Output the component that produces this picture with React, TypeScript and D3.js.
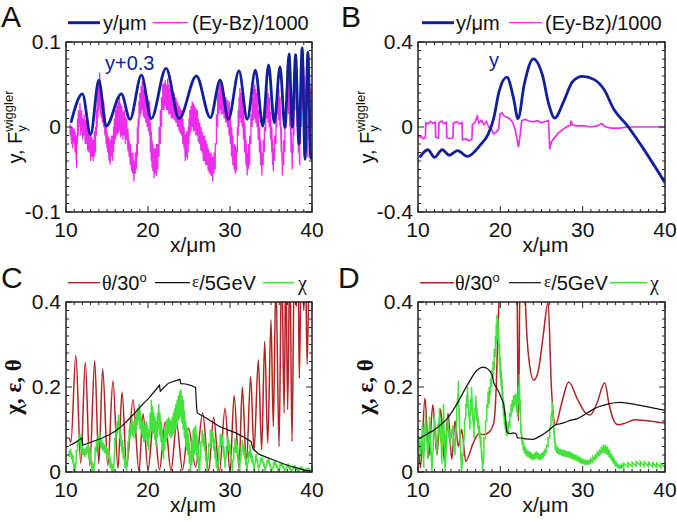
import React from 'react';
import * as d3 from 'd3';

type P = [number, number];
type B3 = [number, number, number];

// ---------- tick values ----------
const X_TICKS = [10, 20, 30, 40];
const A_Y_TICKS = [-0.1, 0, 0.1];
const B_Y_TICKS = [-0.4, 0, 0.4];
const CD_Y_TICKS = [0, 0.2, 0.4];

// ---------- Panel A ----------
const A_blue: P[] = [
  [10.6, 0.005], [12.0, 0.039], [13.0, -0.009], [14.0, 0.055], [14.9, 0.001], [16.75, 0.039],
  [17.8, 0.009], [19.2, 0.061], [20.4, 0.01], [22.2, 0.069], [23.8, 0.01], [25.9, 0.06],
  [27.6, 0.011], [28.8, 0.055], [29.8, 0.009], [31.1, 0.066], [32.1, 0.009], [33.1, 0.067],
  [34.0, 0.001], [34.7, 0.073], [35.4, 0.005], [36.1, 0.071], [36.7, -0.001], [37.2, 0.086],
  [37.6, 0.0], [38.0, 0.085], [38.4, -0.02], [38.8, 0.093], [39.15, -0.038], [39.5, 0.088],
  [39.85, -0.037], [40.0, -0.03],
];
// magenta noisy trace: [x, low, high]
const A_mag: B3[] = [
  [10.5, -0.01, 0.003], [10.7, -0.02, 0.0], [10.8, -0.025, 0.0], [11.0, -0.02, -0.002], [11.1, -0.03, -0.005], [11.3, -0.048, -0.01],
  [11.4, -0.02, 0.01], [11.5, -0.01, 0.02], [11.7, 0.0, 0.028], [11.8, -0.01, 0.015], [11.9, -0.005, 0.02], [12.05, -0.015, 0.01], [12.2, -0.01, 0.015],
  [12.35, -0.02, 0.008], [12.5, -0.02, 0.005], [12.65, -0.028, 0.0], [12.8, -0.03, -0.005], [12.9, -0.025, -0.005], [13.0, -0.04, -0.01], [13.15, -0.035, -0.012], [13.3, -0.04, -0.015],
  [13.45, -0.035, -0.005], [13.6, -0.03, 0.0], [13.7, -0.01, 0.02], [13.8, 0.0, 0.04], [13.9, 0.01, 0.05], [14.0, 0.02, 0.055], [14.1, 0.025, 0.064],
  [14.2, 0.015, 0.05], [14.3, 0.01, 0.045], [14.45, 0.005, 0.035], [14.6, 0.0, 0.03], [14.75, -0.01, 0.015], [14.9, -0.02, 0.0], [15.0, -0.025, -0.005], [15.1, -0.03, -0.01],
  [15.25, -0.04, -0.012], [15.4, -0.044, -0.015], [15.55, -0.035, -0.01], [15.7, -0.04, -0.01], [15.8, -0.03, 0.0], [15.9, -0.02, 0.01], [16.05, -0.015, 0.02], [16.2, -0.01, 0.025],
  [16.35, -0.008, 0.03], [16.5, -0.005, 0.036], [16.65, -0.012, 0.028], [16.8, -0.01, 0.025], [16.95, -0.015, 0.018], [17.1, -0.01, 0.02], [17.25, -0.02, 0.012], [17.4, -0.015, 0.01],
  [17.55, -0.028, -0.002], [17.7, -0.035, -0.015], [17.85, -0.045, -0.02], [18.0, -0.052, -0.03], [18.15, -0.055, -0.03], [18.3, -0.064, -0.04], [18.45, -0.055, -0.03], [18.6, -0.05, -0.02],
  [18.7, -0.035, 0.0], [18.8, -0.02, 0.01], [18.9, 0.0, 0.03], [19.0, 0.01, 0.04], [19.15, 0.015, 0.048], [19.3, 0.02, 0.054], [19.45, 0.012, 0.045], [19.6, 0.01, 0.045],
  [19.75, 0.005, 0.04], [19.9, 0.0, 0.037], [20.05, -0.005, 0.032], [20.2, -0.01, 0.03], [20.3, -0.03, 0.005], [20.4, -0.04, -0.005], [20.5, -0.048, -0.015], [20.6, -0.052, -0.02],
  [20.75, -0.06, -0.025], [20.9, -0.055, -0.025], [21.05, -0.058, -0.02], [21.2, -0.05, -0.02], [21.35, -0.035, 0.0], [21.5, -0.02, 0.02], [21.65, 0.0, 0.035], [21.8, 0.02, 0.05],
  [21.95, 0.02, 0.052], [22.1, 0.025, 0.055], [22.25, 0.02, 0.05], [22.4, 0.02, 0.057], [22.55, 0.015, 0.05], [22.7, 0.015, 0.045], [22.85, 0.01, 0.048], [23.0, 0.01, 0.04],
  [23.2, 0.008, 0.04], [23.4, 0.005, 0.035], [23.6, 0.0, 0.03], [23.8, -0.005, 0.025], [23.95, -0.008, 0.022], [24.1, -0.01, 0.02], [24.25, -0.02, 0.01], [24.4, -0.025, 0.0],
  [24.55, -0.04, -0.008], [24.7, -0.035, -0.005], [24.8, -0.038, -0.005], [24.9, -0.03, 0.0], [25.0, -0.02, 0.01], [25.1, -0.01, 0.02], [25.25, -0.005, 0.025], [25.4, 0.0, 0.03],
  [25.55, -0.005, 0.028], [25.7, -0.005, 0.025], [25.85, -0.01, 0.022], [26.0, -0.01, 0.02], [26.15, -0.018, 0.01], [26.3, -0.02, 0.005], [26.45, -0.028, 0.0], [26.6, -0.03, -0.005],
  [26.75, -0.04, -0.01], [26.9, -0.04, -0.01], [27.05, -0.045, -0.015], [27.2, -0.045, -0.02], [27.35, -0.052, -0.025], [27.5, -0.055, -0.03], [27.7, -0.058, -0.03], [27.9, -0.064, -0.035],
  [28.05, -0.055, -0.03], [28.2, -0.05, -0.02], [28.35, -0.02, 0.015], [28.5, 0.0, 0.04], [28.65, 0.015, 0.05], [28.8, 0.02, 0.057], [28.95, 0.015, 0.05], [29.1, 0.015, 0.045],
  [29.3, 0.01, 0.04], [29.5, 0.005, 0.035], [29.7, 0.0, 0.032], [29.9, -0.01, 0.03], [30.05, -0.02, 0.015], [30.2, -0.035, 0.0], [30.35, -0.045, -0.01], [30.5, -0.05, -0.02],
  [30.65, -0.055, -0.022], [30.8, -0.052, -0.025], [30.9, -0.03, 0.0], [31.0, -0.01, 0.02], [31.1, 0.0, 0.035], [31.2, 0.01, 0.046], [31.35, 0.005, 0.04], [31.5, 0.0, 0.035],
  [31.65, -0.015, 0.02], [31.8, -0.03, 0.005], [31.95, -0.045, -0.015], [32.1, -0.057, -0.03], [32.25, -0.05, -0.02], [32.4, -0.045, -0.01], [32.55, -0.02, 0.015], [32.7, 0.0, 0.035],
  [32.85, 0.008, 0.045], [33.0, 0.01, 0.05], [33.15, 0.005, 0.045], [33.3, 0.0, 0.04], [33.45, -0.015, 0.02], [33.6, -0.03, 0.0], [33.75, -0.045, -0.015], [33.9, -0.057, -0.03],
  [34.05, -0.045, -0.015], [34.2, -0.03, 0.0], [34.35, -0.005, 0.03], [34.5, 0.01, 0.047], [34.65, 0.005, 0.04], [34.8, 0.0, 0.035], [34.95, -0.015, 0.018], [35.1, -0.03, 0.0],
  [35.2, -0.045, -0.015], [35.3, -0.052, -0.025], [35.45, -0.04, -0.01], [35.6, -0.02, 0.01], [35.7, 0.0, 0.035], [35.8, 0.015, 0.052], [35.95, 0.008, 0.045], [36.1, 0.0, 0.035],
  [36.25, -0.03, 0.0], [36.4, -0.057, -0.03], [36.55, -0.045, -0.015], [36.7, -0.03, 0.0], [36.85, 0.0, 0.04], [37.0, 0.03, 0.073], [37.15, 0.015, 0.055], [37.3, 0.0, 0.04],
  [37.45, -0.03, 0.0], [37.6, -0.05, -0.02], [37.7, -0.03, 0.005], [37.8, -0.01, 0.03], [37.9, 0.02, 0.06], [38.0, 0.04, 0.081], [38.1, 0.02, 0.06], [38.2, 0.0, 0.04],
  [38.35, -0.03, 0.005], [38.5, -0.045, -0.015], [38.6, -0.02, 0.015], [38.7, 0.0, 0.04], [38.8, 0.02, 0.065], [38.9, 0.04, 0.081], [39.0, 0.03, 0.07], [39.1, 0.02, 0.06],
  [39.2, 0.0, 0.045], [39.3, -0.01, 0.03], [39.4, -0.025, 0.005], [39.5, -0.036, -0.01], [39.6, -0.015, 0.015], [39.7, 0.0, 0.03], [39.8, 0.01, 0.045], [39.9, 0.02, 0.05],
  [40.0, 0.0, 0.04],
];

// ---------- Panel B ----------
const B_blue: P[] = [
  [10.2, -0.143], [11.2, -0.107], [12.0, -0.143], [12.95, -0.107], [13.8, -0.133], [14.8, -0.111],
  [16.0, -0.138], [17.6, -0.083], [18.5, -0.036], [19.2, 0.042], [19.85, 0.168], [20.8, 0.235],
  [21.6, 0.136], [22.15, 0.039], [22.9, 0.2], [24.0, 0.321], [25.1, 0.246], [25.9, 0.105],
  [26.6, 0.042], [27.7, 0.121], [28.75, 0.212], [29.96, 0.238], [31.4, 0.223], [32.6, 0.176],
  [33.8, 0.082], [35.4, 0.008], [37.05, -0.083], [40.0, -0.262],
];
const B_mag: P[] = [
  [10.1, -0.05], [10.4, -0.045], [10.6, -0.055], [10.9, -0.05], [10.95, 0.02], [11.2, 0.014],
  [11.5, 0.026], [11.8, 0.017], [12.1, 0.022], [12.15, -0.048], [12.5, -0.052], [12.55, 0.02],
  [12.9, 0.028], [13.2, 0.016], [13.45, 0.022], [13.5, -0.05], [13.9, -0.055], [14.25, -0.05],
  [14.3, 0.018], [14.7, 0.025], [15.0, 0.015], [15.35, 0.02], [15.4, -0.06], [15.8, -0.055],
  [16.2, -0.065], [16.55, -0.058], [16.6, 0.01], [16.9, 0.02], [17.2, 0.05], [17.4, 0.018],
  [17.7, 0.032], [18.0, 0.012], [18.3, 0.026], [18.6, 0.0], [18.9, -0.01], [19.2, -0.032],
  [19.5, -0.024], [19.8, -0.01], [19.95, 0.06], [20.2, 0.066], [20.5, 0.05], [20.8, 0.046],
  [21.1, 0.04], [21.5, 0.022], [21.8, -0.01], [22.0, -0.05], [22.2, -0.095], [22.4, -0.04],
  [22.6, 0.03], [23.0, 0.036], [23.5, 0.028], [24.0, 0.024], [24.5, 0.03], [25.0, 0.02],
  [25.5, 0.026], [25.85, 0.03], [26.0, -0.105], [26.2, -0.07], [26.6, -0.05], [27.0, -0.03],
  [27.5, -0.015], [28.0, 0.0], [28.5, 0.008], [28.6, 0.03], [28.75, 0.01], [29.2, 0.005],
  [30.0, 0.006], [31.0, 0.0], [31.8, 0.005], [32.3, 0.016], [32.8, 0.0], [33.5, -0.005],
  [34.5, -0.005], [35.5, 0.0], [36.5, 0.0], [38.0, 0.0], [40.0, 0.0],
];

// ---------- Panel C ----------
const C_theta: P[] = [
  [10.4, 0.08], [10.6, 0.07], [11.2, 0.275], [11.8, 0.02], [12.35, 0.258], [12.9, 0.015],
  [13.5, 0.262], [14.0, 0.02], [14.47, 0.243], [15.1, 0.015], [15.73, 0.215], [16.34, 0.009],
  [16.83, 0.188], [17.4, 0.012], [18.17, 0.17], [18.9, 0.002], [19.4, 0.137], [20.0, 0.005],
  [20.7, 0.123], [21.4, 0.005], [22.1, 0.118], [22.8, 0.003], [23.5, 0.113], [24.2, 0.005],
  [24.95, 0.103], [25.8, 0.012], [26.67, 0.139], [27.4, 0.003], [28.0, 0.129], [28.7, 0.0],
  [29.4, 0.15], [30.0, 0.0], [30.5, 0.18], [31.1, 0.01], [31.5, 0.2], [32.0, 0.02],
  [32.52, 0.225], [32.93, 0.05], [33.45, 0.264], [33.86, 0.053], [34.23, 0.307], [34.6, 0.068],
  [35.0, 0.358], [35.28, 0.107], [35.6, 0.45], [35.98, 0.06], [36.3, 0.5], [36.6, 0.139],
  [36.8, 0.5], [37.03, 0.147], [37.3, 0.5], [37.56, 0.072], [37.85, 0.5], [38.1, 0.39],
  [38.3, 0.5], [38.45, 0.22], [38.7, 0.5], [39.0, 0.38], [39.2, 0.5], [39.4, 0.253],
  [39.7, 0.5], [40.0, 0.45],
];
const C_eps: P[] = [
  [10.4, 0.062], [11.2, 0.07], [11.95, 0.08], [12.05, 0.063], [13.0, 0.07], [14.4, 0.08],
  [15.2, 0.087], [16.0, 0.096], [16.8, 0.108], [17.6, 0.123], [18.3, 0.137], [18.9, 0.15],
  [19.5, 0.162], [20.1, 0.174], [20.8, 0.19], [21.4, 0.204], [21.5, 0.19], [22.0, 0.2],
  [22.5, 0.209], [23.2, 0.214], [23.9, 0.218], [24.0, 0.208], [24.6, 0.207], [25.2, 0.204],
  [25.8, 0.199], [25.9, 0.16], [26.0, 0.139], [27.1, 0.127], [28.7, 0.107], [30.7, 0.092],
  [31.7, 0.082], [32.56, 0.072], [32.8, 0.055], [33.5, 0.042], [34.4, 0.035], [35.5, 0.027],
  [36.4, 0.02], [37.5, 0.013], [38.45, 0.008], [39.2, 0.004], [39.9, 0.002],
];
const C_chi: B3[] = [
  [10.4, 0.035, 0.05], [10.55, 0.04, 0.055], [10.7, 0.03, 0.045], [10.85, 0.02, 0.04], [11.0, 0.0, 0.02], [11.1, 0.0, 0.005],
  [11.25, 0.03, 0.05], [11.4, 0.05, 0.075], [11.55, 0.06, 0.085], [11.7, 0.07, 0.09], [11.85, 0.05, 0.07], [12.0, 0.04, 0.06], [12.15, 0.04, 0.055], [12.3, 0.035, 0.055],
  [12.5, 0.04, 0.06], [12.7, 0.045, 0.07], [12.85, 0.03, 0.055], [13.0, 0.02, 0.045], [13.2, 0.0, 0.025], [13.4, 0.0, 0.01], [13.55, 0.03, 0.055], [13.7, 0.05, 0.075],
  [13.9, 0.06, 0.085], [14.1, 0.07, 0.095], [14.3, 0.055, 0.08], [14.5, 0.05, 0.07], [14.7, 0.045, 0.065], [14.9, 0.04, 0.06], [15.05, 0.035, 0.055], [15.2, 0.03, 0.05],
  [15.4, 0.01, 0.035], [15.6, 0.0, 0.02], [15.8, 0.0, 0.005], [15.95, 0.05, 0.08], [16.1, 0.08, 0.11], [16.25, 0.09, 0.12], [16.4, 0.1, 0.135], [16.55, 0.08, 0.11],
  [16.7, 0.06, 0.09], [16.85, 0.045, 0.075], [17.0, 0.03, 0.06], [17.2, 0.01, 0.035], [17.4, 0.0, 0.01], [17.55, 0.04, 0.07], [17.7, 0.07, 0.1], [17.85, 0.08, 0.115],
  [18.0, 0.09, 0.13], [18.15, 0.085, 0.12], [18.3, 0.08, 0.11], [18.45, 0.09, 0.125], [18.6, 0.1, 0.14], [18.75, 0.11, 0.15], [18.9, 0.12, 0.16], [19.05, 0.1, 0.145],
  [19.2, 0.09, 0.13], [19.35, 0.08, 0.12], [19.5, 0.07, 0.11], [19.65, 0.075, 0.115], [19.8, 0.08, 0.12], [19.95, 0.06, 0.11], [20.1, 0.05, 0.1], [20.25, 0.08, 0.14],
  [20.4, 0.1, 0.17], [20.55, 0.095, 0.155], [20.7, 0.09, 0.14], [20.85, 0.075, 0.13], [21.0, 0.06, 0.12], [21.15, 0.08, 0.14], [21.3, 0.1, 0.16], [21.45, 0.085, 0.14],
  [21.6, 0.07, 0.12], [21.75, 0.05, 0.1], [21.9, 0.03, 0.08], [22.05, 0.05, 0.1], [22.2, 0.07, 0.12], [22.35, 0.08, 0.125], [22.5, 0.09, 0.13], [22.65, 0.085, 0.125],
  [22.8, 0.08, 0.12], [22.95, 0.085, 0.13], [23.1, 0.09, 0.14], [23.25, 0.095, 0.15], [23.4, 0.1, 0.16], [23.55, 0.11, 0.17], [23.7, 0.12, 0.18], [23.85, 0.125, 0.19],
  [24.0, 0.13, 0.195], [24.15, 0.115, 0.18], [24.3, 0.1, 0.17], [24.45, 0.08, 0.145], [24.6, 0.06, 0.12], [24.75, 0.05, 0.105], [24.9, 0.04, 0.09], [25.05, 0.02, 0.07],
  [25.2, 0.0, 0.05], [25.35, 0.015, 0.075], [25.5, 0.03, 0.1], [25.65, 0.04, 0.105], [25.8, 0.05, 0.11], [25.95, 0.035, 0.09], [26.1, 0.02, 0.07], [26.2, 0.005, 0.04],
  [26.3, 0.0, 0.02], [26.45, 0.04, 0.07], [26.6, 0.07, 0.1], [26.75, 0.06, 0.09], [26.9, 0.05, 0.08], [27.05, 0.025, 0.05], [27.2, 0.0, 0.02], [27.4, 0.035, 0.065],
  [27.6, 0.06, 0.1], [27.75, 0.065, 0.098], [27.9, 0.07, 0.095], [28.05, 0.05, 0.08], [28.2, 0.03, 0.06], [28.35, 0.01, 0.035], [28.5, 0.0, 0.015], [28.65, 0.03, 0.06],
  [28.8, 0.06, 0.09], [28.95, 0.062, 0.088], [29.1, 0.06, 0.085], [29.25, 0.035, 0.06], [29.4, 0.01, 0.03], [29.55, 0.035, 0.06], [29.7, 0.06, 0.085], [29.85, 0.05, 0.075],
  [30.0, 0.04, 0.065], [30.15, 0.02, 0.04], [30.3, 0.0, 0.02], [30.45, 0.03, 0.055], [30.6, 0.05, 0.08], [30.75, 0.045, 0.072], [30.9, 0.04, 0.065], [31.05, 0.02, 0.04],
  [31.2, 0.0, 0.02], [31.35, 0.03, 0.05], [31.5, 0.05, 0.075], [31.65, 0.04, 0.065], [31.8, 0.03, 0.055], [31.95, 0.015, 0.035], [32.1, 0.0, 0.015], [32.25, 0.025, 0.045],
  [32.4, 0.04, 0.065], [32.55, 0.03, 0.05], [32.7, 0.02, 0.04], [32.95, 0.0, 0.01], [33.1, 0.025, 0.038], [33.2, 0.03, 0.042], [33.35, 0.02, 0.03], [33.5, 0.0, 0.008],
  [33.7, 0.02, 0.03], [33.9, 0.025, 0.035], [34.1, 0.015, 0.024], [34.3, 0.0, 0.006], [34.5, 0.017, 0.026], [34.7, 0.022, 0.032], [34.9, 0.012, 0.02], [35.1, 0.0, 0.005],
  [35.3, 0.014, 0.022], [35.5, 0.018, 0.027], [35.7, 0.01, 0.017], [35.9, 0.0, 0.005], [36.1, 0.011, 0.018], [36.3, 0.015, 0.023], [36.5, 0.008, 0.014], [36.7, 0.0, 0.005],
  [36.9, 0.009, 0.016], [37.1, 0.012, 0.02], [37.3, 0.006, 0.012], [37.5, 0.0, 0.004], [37.7, 0.007, 0.013], [37.9, 0.009, 0.016], [38.1, 0.005, 0.01], [38.3, 0.0, 0.004],
  [38.5, 0.005, 0.01], [38.7, 0.007, 0.013], [38.9, 0.003, 0.008], [39.1, 0.0, 0.004], [39.3, 0.003, 0.008], [39.5, 0.004, 0.01], [39.7, 0.002, 0.006], [39.9, 0.0, 0.004],
];

// ---------- Panel D ----------
const D_theta: P[] = [
  [10.15, 0.04], [10.3, 0.01], [10.85, 0.174], [11.3, 0.035], [11.8, 0.158], [12.3, 0.04],
  [12.75, 0.148], [13.2, 0.025], [13.65, 0.138], [14.1, 0.03], [14.5, 0.12], [14.9, 0.06],
  [15.3, 0.1], [15.8, 0.025], [16.7, 0.068], [17.4, 0.09], [18.0, 0.088], [18.7, 0.095],
  [19.2, 0.115], [19.5, 0.2], [19.7, 0.33], [19.85, 0.42], [20.0, 0.6], [21.9, 0.6],
  [22.05, 0.4], [22.2, 0.12], [22.35, 0.4], [22.5, 0.6], [22.9, 0.6], [23.05, 0.4],
  [23.5, 0.26], [24.05, 0.216], [24.6, 0.237], [25.2, 0.32], [25.8, 0.4], [26.2, 0.2],
  [26.7, 0.111], [27.4, 0.158], [28.3, 0.212], [29.4, 0.17], [30.3, 0.14], [30.9, 0.134],
  [31.7, 0.16], [32.68, 0.21], [33.2, 0.16], [33.8, 0.12], [34.3, 0.111], [35.2, 0.115],
  [36.3, 0.123], [38.0, 0.12], [40.0, 0.115],
];
const D_eps: P[] = [
  [10.15, 0.078], [11.0, 0.088], [11.94, 0.099], [12.8, 0.112], [13.6, 0.127], [14.78, 0.162],
  [16.0, 0.205], [17.2, 0.24], [17.9, 0.247], [18.5, 0.242], [18.8, 0.235], [19.0, 0.228],
  [19.2, 0.21], [19.5, 0.2], [19.8, 0.189], [20.2, 0.17], [20.4, 0.16], [20.6, 0.13],
  [20.8, 0.095], [21.2, 0.09], [21.6, 0.092], [22.0, 0.088], [22.05, 0.08], [22.5, 0.08],
  [23.0, 0.078], [24.0, 0.077], [24.6, 0.082], [25.3, 0.09], [26.0, 0.1], [26.6, 0.11],
  [27.6, 0.115], [28.6, 0.122], [29.3, 0.125], [30.65, 0.14], [31.5, 0.15], [32.7, 0.158],
  [33.9, 0.163], [34.6, 0.164], [36.6, 0.158], [38.5, 0.151], [40.0, 0.145],
];
const D_chi: B3[] = [
  [10.1, 0.065, 0.085], [10.2, 0.05, 0.07], [10.3, 0.03, 0.05], [10.4, 0.06, 0.08], [10.5, 0.09, 0.11], [10.6, 0.05, 0.07], [10.7, 0.01, 0.03],
  [10.8, 0.07, 0.1], [10.9, 0.12, 0.14], [11.05, 0.07, 0.09], [11.2, 0.03, 0.05], [11.3, 0.07, 0.09], [11.4, 0.11, 0.13], [11.55, 0.04, 0.07],
  [11.7, 0.0, 0.005], [11.85, 0.06, 0.09], [12.0, 0.11, 0.13], [12.15, 0.07, 0.1], [12.3, 0.04, 0.06], [12.45, 0.09, 0.11], [12.6, 0.13, 0.15],
  [12.75, 0.07, 0.1], [12.9, 0.02, 0.04], [13.0, 0.09, 0.11], [13.1, 0.14, 0.16], [13.2, 0.06, 0.09], [13.3, 0.0, 0.005], [13.45, 0.06, 0.09],
  [13.6, 0.11, 0.13], [13.75, 0.08, 0.1], [13.9, 0.06, 0.08], [14.05, 0.08, 0.1], [14.2, 0.09, 0.11], [14.35, 0.06, 0.08], [14.5, 0.04, 0.06],
  [14.7, 0.12, 0.15], [14.9, 0.19, 0.215], [15.0, 0.12, 0.15], [15.1, 0.07, 0.09], [15.2, 0.03, 0.05], [15.3, 0.0, 0.005], [15.4, 0.02, 0.04],
  [15.5, 0.04, 0.06], [15.65, 0.09, 0.12], [15.8, 0.13, 0.16], [15.9, 0.15, 0.18], [16.0, 0.17, 0.2], [16.15, 0.13, 0.16], [16.3, 0.1, 0.13],
  [16.4, 0.14, 0.17], [16.5, 0.17, 0.2], [16.65, 0.12, 0.15], [16.8, 0.08, 0.11], [16.9, 0.12, 0.15], [17.0, 0.15, 0.18], [17.15, 0.12, 0.15],
  [17.3, 0.1, 0.13], [17.45, 0.08, 0.11], [17.6, 0.06, 0.09], [17.75, 0.03, 0.05], [17.85, 0.0, 0.01], [18.0, 0.04, 0.08], [18.2, 0.08, 0.12],
  [18.35, 0.12, 0.16], [18.5, 0.15, 0.19], [18.65, 0.16, 0.2], [18.8, 0.18, 0.22], [18.95, 0.2, 0.24], [19.1, 0.22, 0.26], [19.25, 0.24, 0.29],
  [19.4, 0.27, 0.32], [19.5, 0.3, 0.35], [19.6, 0.33, 0.37], [19.7, 0.31, 0.36], [19.8, 0.29, 0.34], [19.9, 0.25, 0.3], [20.0, 0.22, 0.27],
  [20.1, 0.2, 0.24], [20.2, 0.18, 0.22], [20.3, 0.15, 0.19], [20.4, 0.13, 0.17], [20.5, 0.11, 0.15], [20.6, 0.1, 0.14], [20.7, 0.09, 0.12],
  [20.8, 0.085, 0.11], [20.9, 0.088, 0.112], [21.0, 0.09, 0.115], [21.15, 0.11, 0.14], [21.3, 0.13, 0.16], [21.45, 0.14, 0.17], [21.6, 0.15, 0.18],
  [21.75, 0.155, 0.182], [21.9, 0.16, 0.185], [22.0, 0.14, 0.17], [22.1, 0.13, 0.16], [22.2, 0.16, 0.2], [22.3, 0.2, 0.23], [22.4, 0.14, 0.17],
  [22.5, 0.09, 0.11], [22.65, 0.065, 0.085], [22.8, 0.05, 0.07], [23.0, 0.042, 0.06], [23.2, 0.037, 0.053], [23.4, 0.035, 0.05], [23.6, 0.032, 0.048],
  [23.8, 0.03, 0.045], [24.0, 0.028, 0.042], [24.2, 0.03, 0.046], [24.4, 0.032, 0.048], [24.6, 0.03, 0.045], [24.8, 0.028, 0.042], [25.0, 0.03, 0.045],
  [25.2, 0.032, 0.048], [25.4, 0.038, 0.054], [25.6, 0.045, 0.062], [25.8, 0.06, 0.08], [26.0, 0.08, 0.1], [26.15, 0.11, 0.13], [26.3, 0.145, 0.165],
  [26.4, 0.12, 0.14], [26.5, 0.09, 0.11], [26.6, 0.068, 0.085], [26.7, 0.05, 0.068], [26.85, 0.045, 0.062], [27.0, 0.042, 0.058], [27.25, 0.04, 0.055],
  [27.5, 0.037, 0.053], [27.75, 0.036, 0.052], [28.0, 0.035, 0.05], [28.25, 0.034, 0.049], [28.5, 0.032, 0.048], [28.75, 0.03, 0.045], [29.0, 0.028, 0.042],
  [29.25, 0.026, 0.04], [29.5, 0.023, 0.037], [29.75, 0.02, 0.034], [30.0, 0.018, 0.032], [30.25, 0.017, 0.03], [30.5, 0.016, 0.028], [30.75, 0.017, 0.029],
  [31.0, 0.019, 0.031], [31.25, 0.023, 0.036], [31.5, 0.028, 0.042], [31.75, 0.032, 0.048], [32.0, 0.037, 0.053], [32.25, 0.041, 0.059], [32.5, 0.045, 0.065],
  [32.75, 0.043, 0.063], [33.0, 0.04, 0.06], [33.25, 0.034, 0.052], [33.5, 0.027, 0.043], [33.75, 0.02, 0.035], [34.0, 0.013, 0.027], [34.25, 0.009, 0.02],
  [34.5, 0.007, 0.017], [34.75, 0.008, 0.018], [35.0, 0.01, 0.02], [35.5, 0.012, 0.022], [36.0, 0.013, 0.023], [36.5, 0.014, 0.024], [37.0, 0.015, 0.025],
  [37.5, 0.014, 0.024], [38.0, 0.013, 0.023], [38.5, 0.012, 0.022], [39.0, 0.011, 0.021], [39.5, 0.01, 0.02], [40.0, 0.009, 0.018],
];

// ---------- styling ----------
const SANS = '"Liberation Sans", Arial, Helvetica, sans-serif';
const SERIF = '"Liberation Serif", "DejaVu Serif", "Times New Roman", serif';
const BLUE = '#13209b';
const MAGENTA = '#ec2eec';
const RED = '#b02424';
const BLACK = '#111111';
const GREEN = '#44e03c';
const AXIS = '#222';

type Scales = { x: d3.ScaleLinear<number, number>; y: d3.ScaleLinear<number, number> };

function fmt(v: number) {
  return v === 0 ? '0' : String(v);
}

function Panel(props: {
  id: string;
  left: number; top: number; right: number; bottom: number;
  yDomain: [number, number]; yTicks: number[]; yMinor: number;
  letter: string; letterX: number; letterY: number;
  yLabel: React.ReactNode; yLabelX: number;
  children: (s: Scales) => React.ReactNode;
}) {
  const { id, left, top, right, bottom, yDomain, yTicks, yMinor } = props;
  const x = d3.scaleLinear().domain([10, 40]).range([left, right]);
  const y = d3.scaleLinear().domain(yDomain).range([bottom, top]);
  const xMinor = d3.range(10, 40.001, 1);
  const nY = Math.round((yDomain[1] - yDomain[0]) / yMinor);
  const yMinorVals = d3.range(0, nY + 1).map((i) => yDomain[0] + i * yMinor);
  const isMajorX = (v: number) => X_TICKS.some((t) => Math.abs(t - v) < 1e-6);
  const isMajorY = (v: number) => yTicks.some((t) => Math.abs(t - v) < 1e-6);
  return (
    <g>
      <defs>
        <clipPath id={id}>
          <rect x={left} y={top} width={right - left} height={bottom - top} />
        </clipPath>
      </defs>
      <g clipPath={`url(#${id})`}>{props.children({ x, y })}</g>
      <rect x={left} y={top} width={right - left} height={bottom - top} fill="none" stroke={AXIS} strokeWidth={1.5} />
      {xMinor.map((v) => {
        const L = isMajorX(v) ? 6 : 3;
        return (
          <g key={'xt' + v}>
            <line x1={x(v)} x2={x(v)} y1={bottom} y2={bottom - L} stroke={AXIS} strokeWidth={1} />
            <line x1={x(v)} x2={x(v)} y1={top} y2={top + L} stroke={AXIS} strokeWidth={1} />
          </g>
        );
      })}
      {yMinorVals.map((v) => {
        const L = isMajorY(v) ? 6 : 3;
        return (
          <g key={'yt' + v}>
            <line x1={left} x2={left + L} y1={y(v)} y2={y(v)} stroke={AXIS} strokeWidth={1} />
            <line x1={right} x2={right - L} y1={y(v)} y2={y(v)} stroke={AXIS} strokeWidth={1} />
          </g>
        );
      })}
      {X_TICKS.map((v) => (
        <text key={'xl' + v} x={x(v)} y={bottom + 25} textAnchor="middle" fontSize={21} fontFamily={SANS} fill="#111">
          {v}
        </text>
      ))}
      {yTicks.map((v) => (
        <text key={'yl' + v} x={left - 5} y={y(v)} dy="0.33em" textAnchor="end" fontSize={21} fontFamily={SANS} fill="#111">
          {fmt(v)}
        </text>
      ))}
      <text x={(left + right) / 2 + 4} y={bottom + 40} textAnchor="middle" fontSize={21} fontFamily={SANS} fill="#111">
        x/μm
      </text>
      <text x={props.letterX} y={props.letterY} fontSize={30} fontFamily={SANS} fill="#111">
        {props.letter}
      </text>
      <g transform={`translate(${props.yLabelX},${(top + bottom) / 2}) rotate(-90)`}>{props.yLabel}</g>
    </g>
  );
}

function lineOf(s: Scales, curve: d3.CurveFactory = d3.curveMonotoneX) {
  return d3.line<P>().x((d) => s.x(d[0])).y((d) => s.y(d[1])).curve(curve);
}
// noisy traces: at each sample x the trace sweeps from its low to its high value
function noisyPath(s: Scales, data: B3[]) {
  const pts: P[] = data.flatMap((d) => [[d[0], d[1]], [d[0], d[2]]] as P[]);
  return lineOf(s, d3.curveLinear)(pts) || '';
}

function LegendItem({ x1, x2, y, color, width, tx, ty, children }: any) {
  return (
    <g>
      <line x1={x1} x2={x2} y1={y} y2={y} stroke={color} strokeWidth={width} />
      <text x={tx} y={ty} fontSize={20} fontFamily={SANS} fill="#111">
        {children}
      </text>
    </g>
  );
}

const yLabelF = (
  <text x={0} y={0} textAnchor="middle" fontSize={20} fontFamily={SANS} fill="#111">
    <tspan>y, F</tspan>
    <tspan fontSize={13} dy={4}>y</tspan>
    <tspan fontSize={13} dx={-6.5} dy={-13}>wiggler</tspan>
  </text>
);
const yLabelG = (
  <text x={0} y={0} textAnchor="middle" fontSize={23} fontWeight="bold" fontFamily={SERIF} fill="#111">
    χ, ε, θ
  </text>
);

function ThetaLabel() {
  return (
    <>
      <tspan fontFamily={SERIF}>θ</tspan>/30<tspan fontSize={13} dy={-8}>o</tspan>
    </>
  );
}
function EpsLabel() {
  return (
    <>
      <tspan fontFamily={SERIF} fontSize={17} dy={-3}>ε</tspan>
      <tspan dy={3}>/5GeV</tspan>
    </>
  );
}

export default function App() {
  return (
    <svg width={677} height={522} style={{ position: 'absolute', left: 0, top: 0, background: '#fff' }}>
      <rect x={0} y={0} width={677} height={522} fill="#fff" />
      {/* Panel A */}
      <Panel id="clipA" left={66} top={42} right={312} bottom={212} yDomain={[-0.1, 0.1]} yTicks={A_Y_TICKS} yMinor={0.01}
        letter="A" letterX={1} letterY={27} yLabel={yLabelF} yLabelX={22}>
        {(s) => (
          <>
            <path d={noisyPath(s, A_mag)} fill="none" stroke={MAGENTA} strokeWidth={1.3} />
            <path d={lineOf(s)(A_blue) || ''} fill="none" stroke={BLUE} strokeWidth={2.8} />
          </>
        )}
      </Panel>
      <text x={105} y={70} fontSize={20} fontFamily={SANS} fill={BLUE}>y+0.3</text>
      <LegendItem x1={68} x2={100} y={22.7} color={BLUE} width={3} tx={103} ty={29.5}>y/μm</LegendItem>
      <LegendItem x1={153} x2={188} y={22.7} color={MAGENTA} width={1.3} tx={192} ty={29.5}>(Ey-Bz)/1000</LegendItem>

      {/* Panel B */}
      <Panel id="clipB" left={418} top={42} right={665} bottom={212} yDomain={[-0.4, 0.4]} yTicks={B_Y_TICKS} yMinor={0.04}
        letter="B" letterX={341} letterY={27} yLabel={yLabelF} yLabelX={374}>
        {(s) => (
          <>
            <path d={lineOf(s, d3.curveLinear)(B_mag) || ''} fill="none" stroke={MAGENTA} strokeWidth={1.7} />
            <path d={lineOf(s)(B_blue) || ''} fill="none" stroke={BLUE} strokeWidth={2.8} />
          </>
        )}
      </Panel>
      <text x={489} y={67} fontSize={20} fontFamily={SANS} fill={BLUE}>y</text>
      <LegendItem x1={422} x2={454} y={22.7} color={BLUE} width={3} tx={456} ty={29.5}>y/μm</LegendItem>
      <LegendItem x1={509} x2={542} y={22.7} color={MAGENTA} width={1.3} tx={545} ty={29.5}>(Ey-Bz)/1000</LegendItem>

      {/* Panel C */}
      <Panel id="clipC" left={66} top={302} right={312} bottom={472} yDomain={[0, 0.4]} yTicks={CD_Y_TICKS} yMinor={0.02}
        letter="C" letterX={1} letterY={288} yLabel={yLabelG} yLabelX={21}>
        {(s) => (
          <>
            <path d={lineOf(s)(C_theta) || ''} fill="none" stroke={RED} strokeWidth={1.5} />
            <path d={noisyPath(s, C_chi)} fill="none" stroke={GREEN} strokeWidth={1.5} />
            <path d={lineOf(s, d3.curveLinear)(C_eps) || ''} fill="none" stroke={BLACK} strokeWidth={1.2} />
          </>
        )}
      </Panel>
      <LegendItem x1={68} x2={100} y={282.7} color={RED} width={1.4} tx={102} ty={290}><ThetaLabel /></LegendItem>
      <LegendItem x1={155} x2={190} y={282.7} color={BLACK} width={1.2} tx={192} ty={290}><EpsLabel /></LegendItem>
      <LegendItem x1={263} x2={294} y={282.7} color={GREEN} width={1.6} tx={298} ty={290}><tspan fontFamily={SERIF}>χ</tspan></LegendItem>

      {/* Panel D */}
      <Panel id="clipD" left={418} top={302} right={665} bottom={472} yDomain={[0, 0.4]} yTicks={CD_Y_TICKS} yMinor={0.02}
        letter="D" letterX={338} letterY={288} yLabel={yLabelG} yLabelX={373}>
        {(s) => (
          <>
            <path d={lineOf(s)(D_theta) || ''} fill="none" stroke={RED} strokeWidth={1.5} />
            <path d={noisyPath(s, D_chi)} fill="none" stroke={GREEN} strokeWidth={1.5} />
            <path d={lineOf(s)(D_eps) || ''} fill="none" stroke={BLACK} strokeWidth={1.2} />
          </>
        )}
      </Panel>
      <LegendItem x1={420} x2={454} y={282.7} color={RED} width={1.4} tx={455} ty={290}><ThetaLabel /></LegendItem>
      <LegendItem x1={509} x2={541} y={282.7} color={BLACK} width={1.2} tx={544} ty={290}><EpsLabel /></LegendItem>
      <LegendItem x1={610} x2={647} y={282.7} color={GREEN} width={1.6} tx={650} ty={290}><tspan fontFamily={SERIF}>χ</tspan></LegendItem>
    </svg>
  );
}
